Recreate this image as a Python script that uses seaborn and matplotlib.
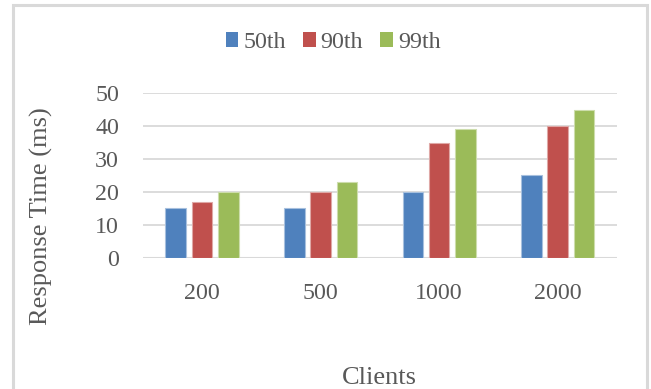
import matplotlib
matplotlib.use("Agg")
import matplotlib.pyplot as plt
import matplotlib.patches as mpatches
import pandas as pd
import seaborn as sns

# Response-time percentiles per client count
clients = ["200", "500", "1000", "2000"]
series_names = ["50th", "90th", "99th"]
p50 = [15, 15, 20, 25]
p90 = [17, 20, 35, 40]
p99 = [20, 23, 39, 45]
y_ticks = [0, 10, 20, 30, 40, 50]

colors = ["#4F81BD", "#C0504D", "#9BBB59"]
edge_colors = ["#A7C0DE", "#DFA8A6", "#CDDDAC"]
text_color = "#595959"
grid_color = "#D9D9D9"

rows = []
for name, values in zip(series_names, [p50, p90, p99]):
    for c, v in zip(clients, values):
        rows.append({"Clients": c, "Percentile": name, "Response": v})
df = pd.DataFrame(rows)

sns.set_theme(style="white")
plt.rcParams["font.family"] = ["Liberation Serif", "DejaVu Serif"]
plt.rcParams["text.color"] = text_color
plt.rcParams["axes.labelcolor"] = text_color
plt.rcParams["xtick.color"] = text_color
plt.rcParams["ytick.color"] = text_color

fig = plt.figure(figsize=(6.51, 3.89), dpi=100)
ax = fig.add_axes([0.2192, 0.3375, 0.7286, 0.4227])

sns.barplot(data=df, x="Clients", y="Response", hue="Percentile",
            order=clients, hue_order=series_names, palette=colors,
            saturation=1, width=0.666, gap=0.216, ax=ax, zorder=3,
            linewidth=0)

# light outline on each bar, per series
for container, ec in zip(ax.containers, edge_colors):
    for bar in container:
        bar.set_edgecolor(ec)
        bar.set_linewidth(0.8)

ax.set_xlim(-0.5, len(clients) - 0.5)
ax.set_ylim(0, 50)
ax.set_yticks(y_ticks)
ax.yaxis.grid(True, color=grid_color, linewidth=1.3, zorder=0)
ax.set_axisbelow(True)
for s in ax.spines.values():
    s.set_visible(False)
ax.axhline(0, color=grid_color, linewidth=1.5, zorder=2)

ax.tick_params(axis="both", length=0, labelsize=17.3)
ax.tick_params(axis="y", pad=17)
ax.tick_params(axis="x", pad=18)

ax.set_xlabel("Clients", fontsize=19)
ax.set_ylabel("Response Time (ms)", fontsize=19)
ax.xaxis.set_label_coords(0.5, -0.665)
ax.yaxis.set_label_coords(-0.19, 0.254)

ax.get_legend().remove()
handles = [mpatches.Patch(facecolor=c, edgecolor="none") for c in colors]
fig.legend(handles, series_names, loc="center", bbox_to_anchor=(0.5115, 0.8907),
           ncol=3, frameon=False, fontsize=17.3, handlelength=0.53,
           handleheight=0.53, handletextpad=0.2, columnspacing=0.72,
           borderpad=0, borderaxespad=0)

# chart-area border
fig.patches.append(mpatches.Rectangle((12.5 / 651, -0.1), (646.5 - 12.5) / 651,
                                      1.1 - 5.5 / 389, transform=fig.transFigure,
                                      fill=False, edgecolor=grid_color,
                                      linewidth=2.2, zorder=0))

fig.savefig("out.png", dpi=100)
